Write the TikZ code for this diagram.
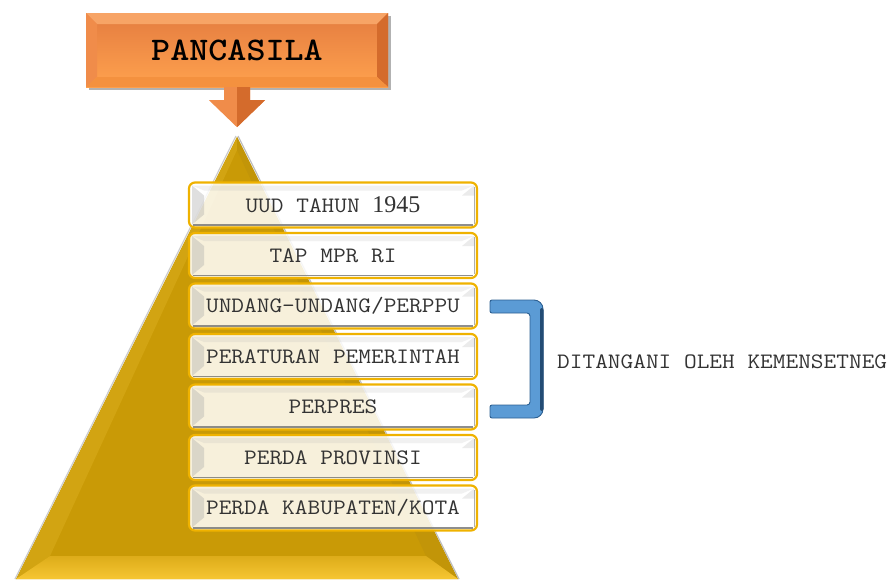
\documentclass[tikz,border=0pt]{standalone}
\usepackage{fontspec}
\newfontfamily\cour{Latin Modern Mono}[FakeStretch=1.12]
\newfontfamily\courbold{lmmonolt10-bold}[Extension=.otf, FakeStretch=1.1]
\newfontfamily\numfont{Liberation Serif}
\usetikzlibrary{calc,shadows}
\definecolor{pyrface}{HTML}{C99A06}
\definecolor{pyrleftc}{HTML}{D2A412}
\definecolor{pyrrightc}{HTML}{C29508}
\definecolor{pyrbot1}{HTML}{DDAC1A}
\definecolor{pyrbot2}{HTML}{F6C632}
\definecolor{boxgold}{HTML}{EFB200}
\definecolor{orface1}{HTML}{E47C40}
\definecolor{orface2}{HTML}{FFA24E}
\definecolor{ortop}{HTML}{F7A466}
\definecolor{orleft}{HTML}{F08C4A}
\definecolor{orright}{HTML}{D46B2C}
\definecolor{orbot}{HTML}{F4913F}
\definecolor{bblue}{HTML}{5B9BD5}
\definecolor{bdark}{HTML}{2C5F91}
\definecolor{txt}{HTML}{333333}
\tikzset{
  lvl/.style={draw=boxgold, line width=2.2pt, rounded corners=6pt, fill=white, fill opacity=.86,
    text opacity=1, minimum width=288pt, minimum height=45pt, inner sep=0pt, text=txt,
    font=\cour\fontsize{22}{22}\selectfont,
    path picture={
      \path (path picture bounding box.north west) coordinate (pnw)
            (path picture bounding box.south east) coordinate (pse);
      \fill[sharp corners, black!35, fill opacity=.35]
        ($(pnw)+(3,3)$) -- ($(pnw)+(15,13)$) -- ($(pnw|-pse)+(15,-13)$) -- ($(pnw|-pse)+(3,-3)$) -- cycle;
      \fill[sharp corners, black!30, fill opacity=.25]
        ($(pse|-pnw)+(-3,3)$) -- ($(pse|-pnw)+(-15,13)$) -- ($(pse|-pnw)+(-3,13)$) -- cycle;
      \fill[sharp corners, black!30, fill opacity=.18]
        ($(pnw)+(3,3)$) -- ($(pse|-pnw)+(-3,3)$) -- ($(pse|-pnw)+(-15,8)$) -- ($(pnw)+(15,8)$) -- cycle;
      \draw[sharp corners, black!55, line width=1.3pt, draw opacity=.8]
        ($(pnw|-pse)+(4,-2.5)$) -- ($(pse)+(-4,-2.5)$);
      \draw[sharp corners, black!45, line width=1pt, draw opacity=.7]
        ($(pse)+(-2.5,-4)$) -- ($(pse|-pnw)+(-2.5,4)$);
    }},
  pbox/.style={minimum width=302pt, minimum height=74pt, inner sep=0pt, text=black,
    font=\courbold\fontsize{33}{33}\selectfont,
    top color=orface1, bottom color=orface2,
    drop shadow={shadow xshift=3pt, shadow yshift=-3pt, opacity=.3, fill=black},
    path picture={
      \path (path picture bounding box.north west) coordinate (pnw)
            (path picture bounding box.south east) coordinate (pse)
            (path picture bounding box.north east) coordinate (pne)
            (path picture bounding box.south west) coordinate (psw);
      \fill[ortop] (pnw) -- (pne) -- ($(pne)+(-11,11)$) -- ($(pnw)+(11,11)$) -- cycle;
      \fill[orleft] (pnw) -- ($(pnw)+(11,11)$) -- ($(psw)+(11,-10)$) -- (psw) -- cycle;
      \fill[orright] (pne) -- ($(pne)+(-11,11)$) -- ($(pse)+(-11,-10)$) -- (pse) -- cycle;
      \fill[orbot] (psw) -- ($(psw)+(11,-10)$) -- ($(pse)+(-11,-10)$) -- (pse) -- cycle;
    }},
  note/.style={anchor=west, inner sep=0pt, text=txt, font=\cour\fontsize{22}{22}\selectfont},
}
\begin{document}
\begin{tikzpicture}[x=1pt,y=-1pt]
\useasboundingbox (0,0) rectangle (894,579);

% pyramid
\coordinate (apex) at (237,137);
\coordinate (bl) at (16,579);
\coordinate (br) at (458,579);
\coordinate (iapex) at (237,150);
\coordinate (ibl) at (50,556);
\coordinate (ibr) at (426,556);
\fill[pyrface] (apex) -- (bl) -- (br) -- cycle;
\fill[pyrleftc] (apex) -- (iapex) -- (ibl) -- (bl) -- cycle;
\fill[pyrrightc] (apex) -- (br) -- (ibr) -- (iapex) -- cycle;
\shade[top color=pyrbot1, bottom color=pyrbot2] (bl) -- (ibl) -- (ibr) -- (br) -- cycle;
\draw[black!20, line width=1.2pt] ($(apex)+(-1,-1)$) -- ($(bl)+(-1,0)$);
\draw[black!25, line width=1.2pt] ($(apex)+(1,-1)$) -- ($(br)+(1,0)$);

% PANCASILA box and arrow
\node[pbox] (pancasila) at (237,50) {PANCASILA};
\fill[orleft] ($(pancasila.south)+(-13,0)$) -- ($(pancasila.south)+(-13,13)$) -- ($(pancasila.south)+(-28,13)$)
   -- ($(pancasila.south)+(0,40)$) -- ($(pancasila.south)+(28,13)$) -- ($(pancasila.south)+(13,13)$)
   -- ($(pancasila.south)+(13,0)$) -- cycle;
\fill[orright] (pancasila.south) -- ($(pancasila.south)+(13,0)$) -- ($(pancasila.south)+(13,13)$)
   -- ($(pancasila.south)+(28,13)$) -- ($(pancasila.south)+(0,40)$) -- cycle;

% levels
\node[lvl] (b1) at (333,205)   {UUD TAHUN {\numfont\fontsize{24}{24}\selectfont 1945}};
\node[lvl] (b2) at (333,255.5) {TAP MPR RI};
\node[lvl] (b3) at (333,306)   {UNDANG-UNDANG/PERPPU};
\node[lvl] (b4) at (333,356.5) {PERATURAN PEMERINTAH};
\node[lvl] (b5) at (333,407)   {PERPRES};
\node[lvl] (b6) at (333,457.5) {PERDA PROVINSI};
\node[lvl] (b7) at (333,508)   {PERDA KABUPATEN/KOTA};

% bracket
\filldraw[fill=bblue, draw=bdark, line width=0.9pt, rounded corners=2pt]
  (490,300) [rounded corners=9pt] -- (543,300) -- (543,418) [rounded corners=2pt] -- (490,418) -- (490,405)
  [rounded corners=3pt] -- (530,405) -- (530,313) [rounded corners=2pt] -- (490,313) -- cycle;
\fill[bdark!80!black, rounded corners=2pt] (540,308) -- (543.5,308) -- (543.5,411) -- (540,411) -- cycle;

\node[note] (kemensetneg) at (557,362) {DITANGANI OLEH KEMENSETNEG};
\end{tikzpicture}
\end{document}
